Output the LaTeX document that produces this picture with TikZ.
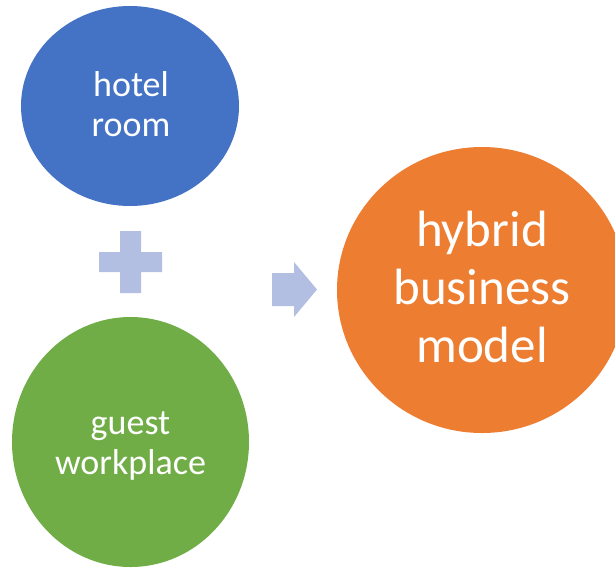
\documentclass[tikz,border=0pt]{standalone}
\usepackage{fontspec}
\setmainfont{Carlito}
\usetikzlibrary{shapes.geometric}
\definecolor{roomblue}{RGB}{68,114,196}
\definecolor{guestgreen}{RGB}{112,173,71}
\definecolor{hybridorange}{RGB}{237,125,49}
\definecolor{opgrey}{RGB}{178,190,226}
\tikzset{
  blob/.style={ellipse, draw=none, inner sep=0pt},
  smalltxt/.style={text=white, align=center, inner sep=0pt,
    font=\fontsize{36}{40}\selectfont},
  bigtxt/.style={text=white, align=center, inner sep=0pt,
    font=\fontsize{51}{58}\selectfont},
  opshape/.style={fill=opgrey, draw=none}
}
\begin{document}
\begin{tikzpicture}[x=1pt, y=-1pt]
  \useasboundingbox (0,0) rectangle (615,568);
  \begin{scope}
    \clip (0,0) rectangle (615,568);
    % circles
    \node[blob, fill=roomblue, minimum width=218pt, minimum height=200pt] (room) at (130,106) {};
    \node[blob, fill=guestgreen, minimum width=237pt, minimum height=250pt] (guest) at (130.5,442) {};
    \node[blob, fill=hybridorange, minimum width=290pt, minimum height=286pt] (hybrid) at (482,290) {};
  \end{scope}
  % labels
  \node[smalltxt] (roomtxt) at (131,104) {hotel\\room};
  \node[smalltxt] (guesttxt) at (130.5,446) {guest\\workplace};
  \node[bigtxt] (hybridtxt) at (482,287) {hybrid\\business\\model};
  % plus sign
  \fill[opshape] (120,231) -- (141,231) -- (141,252) -- (162,252) -- (162,272)
    -- (141,272) -- (141,293) -- (120,293) -- (120,272) -- (99,272)
    -- (99,252) -- (120,252) -- cycle;
  % right arrow
  \fill[opshape] (272,273) -- (294,273) -- (294,262) -- (317,289.5)
    -- (294,317) -- (294,306) -- (272,306) -- cycle;
\end{tikzpicture}
\end{document}
